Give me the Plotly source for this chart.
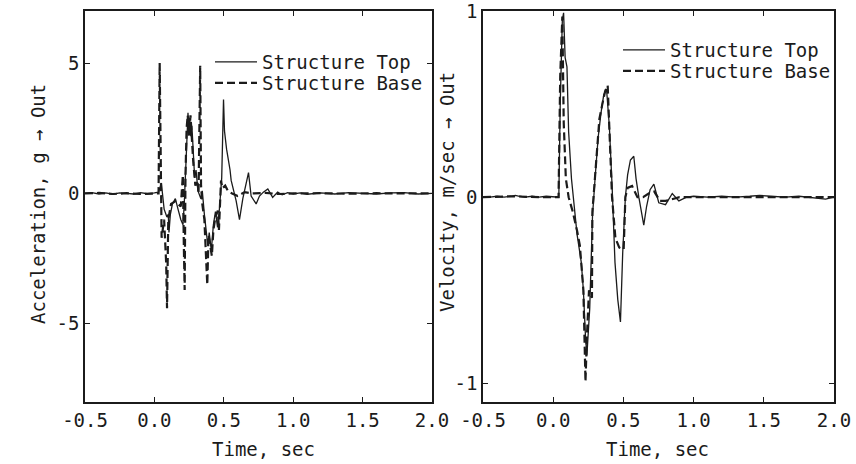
import plotly.graph_objects as go

# ---------------- data ----------------
x_ticks = [-0.5, 0.0, 0.5, 1.0, 1.5, 2.0]
x_tick_labels = ["-0.5", "0.0", "0.5", "1.0", "1.5", "2.0"]
acc_ticks = [-5, 0, 5]
acc_tick_labels = ["-5", "0", "5"]
vel_ticks = [-1, 0, 1]
vel_tick_labels = ["-1", "0", "1"]

series_names = ["Structure Top", "Structure Base"]

# Acceleration, Structure Top (solid)
t_acc_top = [-0.50, -0.45, -0.40, -0.35, -0.30, -0.25, -0.20, -0.15, -0.10, -0.05, 0.00,
             0.03, 0.05, 0.07, 0.09, 0.100, 0.105, 0.115, 0.13, 0.151, 0.17, 0.19, 0.206,
             0.215, 0.23, 0.242, 0.248, 0.255, 0.262, 0.27, 0.278, 0.29, 0.30, 0.314,
             0.335, 0.345, 0.36, 0.375, 0.385, 0.395, 0.41, 0.425, 0.44, 0.455, 0.47,
             0.485, 0.498, 0.505, 0.52, 0.545, 0.553, 0.589, 0.613, 0.637, 0.678, 0.697,
             0.733, 0.757, 0.785, 0.817, 0.852, 0.888, 0.92, 0.96, 1.00, 1.05, 1.10,
             1.20, 1.30, 1.40, 1.50, 1.60, 1.70, 1.80, 1.90, 2.00]
acc_top = [0.00, 0.03, -0.02, 0.02, -0.03, 0.02, 0.00, -0.02, 0.03, -0.01, 0.02,
           0.05, 0.4, -0.6, -0.9, -0.8, -1.5, -0.8, -0.4, -0.2, -0.6, -1.0, -1.2,
           -0.4, 1.5, 3.1, 2.3, 2.9, 2.2, 2.6, 1.8, 0.6, 0.9, 0.1,
           -0.2, 0.1, -0.8, -1.6, -2.0, -1.5, -2.2, -1.2, -0.7, -1.3, -0.5,
           0.6, 3.6, 2.4, 1.7, 0.9, 0.5, -0.28, -1.0, -0.2, 0.8, -0.1,
           -0.4, -0.1, 0.05, 0.17, -0.15, 0.05, -0.05, 0.03, -0.02, 0.02, -0.03,
           0.02, -0.02, 0.03, 0.00, -0.02, 0.02, 0.03, -0.02, 0.00]

# Acceleration, Structure Base (dashed)
t_acc_base = [-0.50, -0.40, -0.30, -0.20, -0.10, 0.00, 0.030, 0.038, 0.042, 0.046, 0.052,
              0.07, 0.085, 0.091, 0.100, 0.12, 0.15, 0.19, 0.205, 0.212, 0.218, 0.224,
              0.232, 0.24, 0.25, 0.26, 0.27, 0.28, 0.295, 0.31, 0.318, 0.330, 0.336,
              0.345, 0.36, 0.372, 0.381, 0.39, 0.40, 0.414, 0.425, 0.44, 0.457, 0.465,
              0.48, 0.49, 0.51, 0.53, 0.56, 0.60, 0.65, 0.70, 0.80, 0.90, 1.00, 1.20,
              1.40, 1.60, 1.80, 2.00]
acc_base = [0.00, 0.02, -0.02, 0.01, -0.02, 0.00, 0.00, 5.0, 2.0, 0.0, -1.7,
            -1.0, -2.7, -4.4, -1.0, -0.4, -0.3, -0.5, 0.7, -2.0, -3.7, 0.7,
            2.5, 3.0, 2.2, 3.0, 2.0, 1.2, 0.3, 0.5, 0.0, 4.9, 0.3,
            -0.4, -1.0, -2.8, -3.5, -1.6, -2.0, -2.4, -1.4, -0.9, -0.66, -1.4,
            0.5, 0.2, 0.3, 0.1, 0.0, -0.1, 0.05, 0.00, 0.02, -0.02, 0.00, 0.01,
            -0.01, 0.01, 0.00, 0.00]

# Velocity, Structure Top (solid)
t_vel_top = [-0.50, -0.45, -0.40, -0.35, -0.30, -0.27, -0.24, -0.20, -0.15, -0.10, -0.05,
             0.00, 0.040, 0.050, 0.065, 0.074, 0.085, 0.098, 0.11, 0.13, 0.15, 0.17,
             0.20, 0.215, 0.23, 0.24, 0.26, 0.28, 0.30, 0.32, 0.34, 0.36, 0.38, 0.39,
             0.40, 0.42, 0.44, 0.46, 0.479, 0.495, 0.514, 0.53, 0.55, 0.574, 0.59,
             0.61, 0.63, 0.645, 0.665, 0.69, 0.717, 0.752, 0.80, 0.848, 0.895, 0.95,
             1.00, 1.10, 1.20, 1.30, 1.40, 1.47, 1.55, 1.65, 1.75, 1.85, 1.94, 2.00]
vel_top = [0.00, 0.00, 0.005, 0.00, 0.005, 0.01, 0.005, 0.00, 0.005, 0.00, 0.005,
           0.00, 0.00, 0.50, 0.95, 0.99, 0.75, 0.70, 0.35, 0.10, -0.05, -0.20,
           -0.35, -0.50, -0.75, -0.85, -0.60, -0.10, 0.12, 0.32, 0.45, 0.55, 0.58, 0.50,
           0.38, 0.05, -0.35, -0.55, -0.67, -0.30, 0.00, 0.12, 0.20, 0.22, 0.10,
           0.00, -0.10, -0.15, -0.05, 0.04, 0.07, -0.03, -0.04, 0.02, -0.02, 0.00,
           0.005, 0.00, 0.005, 0.00, 0.005, 0.01, 0.005, 0.00, 0.005, -0.005, -0.01, 0.00]

# Velocity, Structure Base (dashed)
t_vel_base = [-0.50, -0.30, -0.10, 0.00, 0.038, 0.050, 0.058, 0.065, 0.075, 0.09, 0.11,
              0.14, 0.17, 0.19, 0.215, 0.23, 0.24, 0.255, 0.276, 0.279, 0.30, 0.32,
              0.329, 0.35, 0.37, 0.388, 0.395, 0.41, 0.419, 0.443, 0.47, 0.502, 0.514,
              0.53, 0.562, 0.60, 0.64, 0.68, 0.72, 0.76, 0.80, 0.90, 1.00, 1.50, 2.00]
vel_base = [0.00, 0.005, 0.00, 0.00, 0.00, 0.65, 0.90, 0.97, 0.40, 0.10, 0.00,
            -0.08, -0.18, -0.26, -0.50, -0.99, -0.75, -0.50, -0.54, -0.08, 0.13, 0.35,
            0.42, 0.50, 0.57, 0.60, 0.44, 0.10, 0.00, -0.22, -0.27, -0.28, 0.00,
            0.05, 0.06, 0.00, 0.00, 0.02, 0.03, -0.02, -0.02, 0.00, 0.00, 0.00, 0.00]

# ---------------- styling ----------------
INK = "#1b1b1b"
FONT = "DejaVu Sans Mono"
FS = 19
SOLID = dict(color=INK, width=1.3)
DASHED = dict(color=INK, width=2.2, dash="8px,4px")

fig = go.Figure()
fig.add_trace(go.Scatter(x=t_acc_top, y=acc_top, mode="lines", name=series_names[0],
                         line=SOLID, xaxis="x", yaxis="y", legend="legend"))
fig.add_trace(go.Scatter(x=t_acc_base, y=acc_base, mode="lines", name=series_names[1],
                         line=DASHED, xaxis="x", yaxis="y", legend="legend2"))
fig.add_trace(go.Scatter(x=t_vel_top, y=vel_top, mode="lines", name=series_names[0],
                         line=SOLID, xaxis="x2", yaxis="y2", legend="legend3"))
fig.add_trace(go.Scatter(x=t_vel_base, y=vel_base, mode="lines", name=series_names[1],
                         line=DASHED, xaxis="x2", yaxis="y2", legend="legend4"))

W, H = 856, 464
def px_x(p):
    return p / W
def px_y(p):
    return 1 - p / H

axis_common = dict(showline=True, mirror="ticks", linecolor=INK, linewidth=1.6,
                   ticks="inside", ticklen=5, tickwidth=1.4, tickcolor=INK,
                   showgrid=False, zeroline=False, automargin=False,
                   ticklabeloverflow="allow",
                   tickfont=dict(family=FONT, size=FS, color=INK))

def legend_at(xp, yp):
    return dict(x=px_x(xp), y=px_y(yp), xanchor="left", yanchor="middle",
                bgcolor="rgba(0,0,0,0)", itemwidth=42, tracegroupgap=0,
                font=dict(family=FONT, size=FS, color=INK))

fig.update_layout(
    width=W, height=H,
    margin=dict(l=0, r=0, t=0, b=0, autoexpand=False),
    paper_bgcolor="white", plot_bgcolor="white",
    font=dict(family=FONT, size=FS, color=INK),
    xaxis=dict(domain=[px_x(85), px_x(432)], range=[-0.5, 2.0], anchor="y",
               tickvals=x_ticks, ticktext=x_tick_labels, **axis_common),
    yaxis=dict(domain=[px_y(402), px_y(11)], range=[-8, 7], anchor="x",
               tickvals=acc_ticks, ticktext=acc_tick_labels, **axis_common),
    xaxis2=dict(domain=[px_x(483), px_x(834)], range=[-0.5, 2.0], anchor="y2",
                tickvals=x_ticks, ticktext=x_tick_labels, **axis_common),
    yaxis2=dict(domain=[px_y(402), px_y(11)], range=[-1.1, 1.0], anchor="x2",
                tickvals=vel_ticks, ticktext=vel_tick_labels, **axis_common),
    legend=legend_at(210, 62),
    legend2=legend_at(210, 83),
    legend3=legend_at(618, 50),
    legend4=legend_at(618, 71),
    showlegend=True,
)

annotations = [
    dict(text="Acceleration, g \u2192 Out", x=px_x(38), y=px_y(204), textangle=-90),
    dict(text="Velocity, m/sec \u2192 Out", x=px_x(447), y=px_y(192), textangle=-90),
    dict(text="Time, sec", x=px_x(263), y=px_y(449), textangle=0),
    dict(text="Time, sec", x=px_x(657), y=px_y(449), textangle=0),
]
for a in annotations:
    fig.add_annotation(xref="paper", yref="paper", showarrow=False,
                       xanchor="center", yanchor="middle",
                       font=dict(family=FONT, size=FS, color=INK), **a)

fig.write_html(
    "out.html",
    post_script="document.documentElement.style.margin='0';"
                "document.body.style.margin='0';"
                "document.body.style.overflow='hidden';",
)
